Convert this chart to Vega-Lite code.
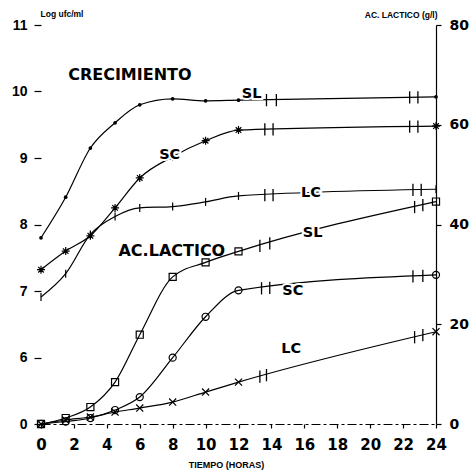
{
  "$schema": "https://vega.github.io/schema/vega-lite/v6.json",
  "width": 395,
  "height": 399,
  "autosize": {"type": "none"},
  "padding": {"left": 41, "top": 25, "right": 36, "bottom": 47},
  "background": "white",
  "config": {
    "view": {"stroke": null},
    "axis": {
      "grid": false,
      "domainColor": "black",
      "domainWidth": 1.2,
      "tickColor": "black",
      "tickWidth": 1.2,
      "labelColor": "black",
      "titleColor": "black",
      "labelFontWeight": "bold",
      "titleFontWeight": "bold",
      "titleFont": "Liberation Sans"
    }
  },
  "datasets": {
    "crec": [
      {"serie": "SL", "h": 0, "v": 7.8},
      {"serie": "SL", "h": 1.5, "v": 8.41},
      {"serie": "SL", "h": 3, "v": 9.15},
      {"serie": "SL", "h": 4.5, "v": 9.53},
      {"serie": "SL", "h": 6, "v": 9.8},
      {"serie": "SL", "h": 8, "v": 9.89},
      {"serie": "SL", "h": 10, "v": 9.86},
      {"serie": "SL", "h": 12, "v": 9.87},
      {"serie": "SL", "h": 24, "v": 9.92},
      {"serie": "SC", "h": 0, "v": 7.32},
      {"serie": "SC", "h": 1.5, "v": 7.6},
      {"serie": "SC", "h": 3, "v": 7.83},
      {"serie": "SC", "h": 4.5, "v": 8.25},
      {"serie": "SC", "h": 6, "v": 8.7},
      {"serie": "SC", "h": 8, "v": 9.02},
      {"serie": "SC", "h": 10, "v": 9.26},
      {"serie": "SC", "h": 12, "v": 9.42},
      {"serie": "SC", "h": 24, "v": 9.48},
      {"serie": "LC", "h": 0, "v": 6.91},
      {"serie": "LC", "h": 1.5, "v": 7.26},
      {"serie": "LC", "h": 3, "v": 7.85},
      {"serie": "LC", "h": 4.5, "v": 8.12},
      {"serie": "LC", "h": 6, "v": 8.25},
      {"serie": "LC", "h": 8, "v": 8.27},
      {"serie": "LC", "h": 10, "v": 8.34},
      {"serie": "LC", "h": 12, "v": 8.43},
      {"serie": "LC", "h": 24, "v": 8.53}
    ],
    "acido": [
      {"serie": "SL", "h": 0, "v": 0},
      {"serie": "SL", "h": 1.5, "v": 1.2},
      {"serie": "SL", "h": 3, "v": 3.4},
      {"serie": "SL", "h": 4.5, "v": 8.4},
      {"serie": "SL", "h": 6, "v": 17.9},
      {"serie": "SL", "h": 8, "v": 29.5},
      {"serie": "SL", "h": 10, "v": 32.4},
      {"serie": "SL", "h": 12, "v": 34.6},
      {"serie": "SL", "h": 24, "v": 44.6},
      {"serie": "SC", "h": 0, "v": 0},
      {"serie": "SC", "h": 1.5, "v": 0.5},
      {"serie": "SC", "h": 3, "v": 1.2},
      {"serie": "SC", "h": 4.5, "v": 2.8},
      {"serie": "SC", "h": 6, "v": 5.4},
      {"serie": "SC", "h": 8, "v": 13.3},
      {"serie": "SC", "h": 10, "v": 21.5},
      {"serie": "SC", "h": 12, "v": 26.8},
      {"serie": "SC", "h": 24, "v": 29.9},
      {"serie": "LC", "h": 0, "v": 0},
      {"serie": "LC", "h": 1.5, "v": 0.8},
      {"serie": "LC", "h": 3, "v": 1.4},
      {"serie": "LC", "h": 4.5, "v": 2.4},
      {"serie": "LC", "h": 6, "v": 3.2},
      {"serie": "LC", "h": 8, "v": 4.4},
      {"serie": "LC", "h": 10, "v": 6.4},
      {"serie": "LC", "h": 12, "v": 8.4},
      {"serie": "LC", "h": 24, "v": 18.5}
    ],
    "cortes_crec": [
      {"serie": "SL", "h": 13.7, "v": 9.87},
      {"serie": "SL", "h": 14.3, "v": 9.87},
      {"serie": "SL", "h": 22.4, "v": 9.91},
      {"serie": "SL", "h": 22.9, "v": 9.91},
      {"serie": "SC", "h": 13.6, "v": 9.43},
      {"serie": "SC", "h": 14.1, "v": 9.43},
      {"serie": "SC", "h": 22.4, "v": 9.47},
      {"serie": "SC", "h": 22.9, "v": 9.47},
      {"serie": "LC", "h": 13.6, "v": 8.44},
      {"serie": "LC", "h": 14.1, "v": 8.44},
      {"serie": "LC", "h": 22.6, "v": 8.52},
      {"serie": "LC", "h": 23.1, "v": 8.52}
    ],
    "cortes_acido": [
      {"serie": "SL", "h": 13.3, "v": 35.7},
      {"serie": "SL", "h": 13.9, "v": 36.2},
      {"serie": "SL", "h": 22.7, "v": 43.5},
      {"serie": "SL", "h": 23.2, "v": 43.9},
      {"serie": "SC", "h": 13.4, "v": 27.2},
      {"serie": "SC", "h": 13.9, "v": 27.3},
      {"serie": "SC", "h": 22.6, "v": 29.6},
      {"serie": "SC", "h": 23.2, "v": 29.7},
      {"serie": "LC", "h": 13.3, "v": 9.5},
      {"serie": "LC", "h": 13.7, "v": 9.8},
      {"serie": "LC", "h": 22.7, "v": 17.4},
      {"serie": "LC", "h": 23.2, "v": 17.8}
    ],
    "rotulos_crec": [
      {"texto": "CRECIMIENTO", "h": 5.4, "v": 10.25},
      {"texto": "SL", "h": 12.8, "v": 9.96},
      {"texto": "SC", "h": 7.82, "v": 9.05},
      {"texto": "LC", "h": 16.4, "v": 8.47}
    ],
    "rotulos_acido": [
      {"texto": "AC.LACTICO", "h": 7.95, "v": 34.6},
      {"texto": "SL", "h": 16.5, "v": 38.2},
      {"texto": "SC", "h": 15.3, "v": 26.7},
      {"texto": "LC", "h": 15.2, "v": 15.1}
    ]
  },
  "encoding": {
    "x": {
      "field": "h",
      "type": "quantitative",
      "scale": {"domain": [0, 24], "nice": false, "zero": false},
      "axis": {
        "values": [0, 2, 4, 6, 8, 10, 12, 14, 16, 18, 20, 22, 24],
        "title": "TIEMPO (HORAS)",
        "domainDash": [9, 3, 3, 3],
        "tickSize": 4,
        "labelPadding": 9,
        "labelFont": "DejaVu Sans",
        "labelFontSize": 15,
        "labelFlush": false,
        "titleFontSize": 9,
        "titleX": 185,
        "titleY": 40,
        "titleAlign": "center",
        "titleBaseline": "middle"
      }
    }
  },
  "layer": [
    {
      "data": {"name": "crec"},
      "encoding": {
        "y": {
          "field": "v",
          "type": "quantitative",
          "scale": {"domain": [5, 11], "nice": false, "zero": false},
          "axis": {
            "orient": "left",
            "values": [5, 6, 7, 8, 9, 10, 11],
            "labelExpr": "datum.value == 5 ? '0' : datum.label",
            "domain": false,
            "tickSize": 7,
            "labelPadding": 7,
            "labelFont": "Liberation Sans",
            "labelFontSize": 14,
            "title": "Log ufc/ml",
            "titleAngle": 0,
            "titleX": -1,
            "titleY": -12,
            "titleAlign": "left",
            "titleBaseline": "middle",
            "titleFontSize": 8.5
          }
        }
      },
      "layer": [
        {
          "mark": {"type": "line", "color": "black", "strokeWidth": 1.2, "interpolate": "monotone"},
          "encoding": {"detail": {"field": "serie"}, "order": {"field": "h"}}
        },
        {
          "transform": [{"filter": "datum.serie == 'SL'"}],
          "mark": {"type": "point", "filled": true, "color": "black", "size": 14, "opacity": 1}
        },
        {
          "transform": [{"filter": "datum.serie != 'SL'"}],
          "mark": {"type": "point", "filled": false, "color": "black", "strokeWidth": 1.2, "size": 64, "opacity": 1},
          "encoding": {
            "shape": {
              "field": "serie",
              "scale": {
                "domain": ["SC", "LC"],
                "range": ["M-1,0L1,0M0,-1L0,1M-0.7,-0.7L0.7,0.7M-0.7,0.7L0.7,-0.7", "M0,-1L0,1"]
              },
              "legend": null
            }
          }
        },
        {
          "data": {"name": "cortes_crec"},
          "mark": {"type": "point", "shape": "M0,-1L0,1", "filled": false, "color": "black", "strokeWidth": 1.3, "size": 150, "opacity": 1}
        },
        {
          "data": {"values": [{}]},
          "layer": [
            {
              "mark": {"type": "rule", "color": "black", "strokeWidth": 1.2, "strokeDash": [14, 3]},
              "encoding": {"x": {"datum": 0}, "x2": {"datum": 24}, "y": {"datum": 11}}
            },
            {
              "mark": {"type": "rule", "color": "black", "strokeWidth": 1.2},
              "encoding": {"x": {"datum": 0}, "y": {"datum": 5.58}, "y2": {"datum": 11}}
            },
            {
              "mark": {"type": "rule", "color": "black", "strokeWidth": 1.2, "strokeDash": [4, 2]},
              "encoding": {"x": {"datum": 0}, "y": {"datum": 5}, "y2": {"datum": 5.27}}
            },
            {
              "mark": {"type": "rule", "color": "black", "strokeWidth": 1.2},
              "encoding": {"x": {"datum": -0.4}, "x2": {"datum": 0.37}, "y": {"datum": 5.5}, "y2": {"datum": 5.65}}
            },
            {
              "mark": {"type": "rule", "color": "black", "strokeWidth": 1.2},
              "encoding": {"x": {"datum": -0.4}, "x2": {"datum": 0.37}, "y": {"datum": 5.18}, "y2": {"datum": 5.33}}
            }
          ]
        },
        {
          "data": {"name": "rotulos_crec"},
          "transform": [{"filter": "datum.texto == 'CRECIMIENTO'"}],
          "mark": {"type": "text", "font": "DejaVu Sans", "fontWeight": "bold", "fontSize": 16, "color": "black", "baseline": "middle"},
          "encoding": {"text": {"field": "texto"}}
        },
        {
          "data": {"name": "rotulos_crec"},
          "transform": [{"filter": "datum.texto != 'CRECIMIENTO'"}],
          "mark": {"type": "text", "font": "DejaVu Sans", "fontWeight": "bold", "fontSize": 14.5, "stroke": "white", "strokeWidth": 4, "fill": "white", "baseline": "middle"},
          "encoding": {"text": {"field": "texto"}}
        },
        {
          "data": {"name": "rotulos_crec"},
          "transform": [{"filter": "datum.texto != 'CRECIMIENTO'"}],
          "mark": {"type": "text", "font": "DejaVu Sans", "fontWeight": "bold", "fontSize": 14.5, "color": "black", "baseline": "middle"},
          "encoding": {"text": {"field": "texto"}}
        }
      ]
    },
    {
      "data": {"name": "acido"},
      "encoding": {
        "y": {
          "field": "v",
          "type": "quantitative",
          "scale": {"domain": [0, 80], "nice": false, "zero": false},
          "axis": {
            "orient": "right",
            "values": [0, 20, 40, 60, 80],
            "tickSize": 5,
            "labelPadding": 8,
            "labelFont": "DejaVu Sans",
            "labelFontSize": 14,
            "title": "AC. LACTICO (g/l)",
            "titleAngle": 0,
            "titleX": 1,
            "titleY": -11,
            "titleAlign": "right",
            "titleBaseline": "middle",
            "titleFontSize": 8.5
          }
        }
      },
      "layer": [
        {
          "mark": {"type": "line", "color": "black", "strokeWidth": 1.2, "interpolate": "monotone"},
          "encoding": {"detail": {"field": "serie"}, "order": {"field": "h"}}
        },
        {
          "mark": {"type": "point", "filled": false, "color": "black", "strokeWidth": 1.2, "size": 50, "opacity": 1},
          "encoding": {
            "shape": {
              "field": "serie",
              "scale": {
                "domain": ["SL", "SC", "LC"],
                "range": ["square", "circle", "M-1,-1L1,1M-1,1L1,-1"]
              },
              "legend": null
            }
          }
        },
        {
          "data": {"name": "cortes_acido"},
          "mark": {"type": "point", "shape": "M0,-1L0,1", "filled": false, "color": "black", "strokeWidth": 1.3, "size": 150, "opacity": 1}
        },
        {
          "data": {"name": "rotulos_acido"},
          "transform": [{"filter": "datum.texto == 'AC.LACTICO'"}],
          "mark": {"type": "text", "font": "DejaVu Sans", "fontWeight": "bold", "fontSize": 16, "color": "black", "baseline": "middle"},
          "encoding": {"text": {"field": "texto"}}
        },
        {
          "data": {"name": "rotulos_acido"},
          "transform": [{"filter": "datum.texto != 'AC.LACTICO'"}],
          "mark": {"type": "text", "font": "DejaVu Sans", "fontWeight": "bold", "fontSize": 14.5, "stroke": "white", "strokeWidth": 4, "fill": "white", "baseline": "middle"},
          "encoding": {"text": {"field": "texto"}}
        },
        {
          "data": {"name": "rotulos_acido"},
          "transform": [{"filter": "datum.texto != 'AC.LACTICO'"}],
          "mark": {"type": "text", "font": "DejaVu Sans", "fontWeight": "bold", "fontSize": 14.5, "color": "black", "baseline": "middle"},
          "encoding": {"text": {"field": "texto"}}
        }
      ]
    }
  ],
  "resolve": {"scale": {"y": "independent", "shape": "independent"}}
}
